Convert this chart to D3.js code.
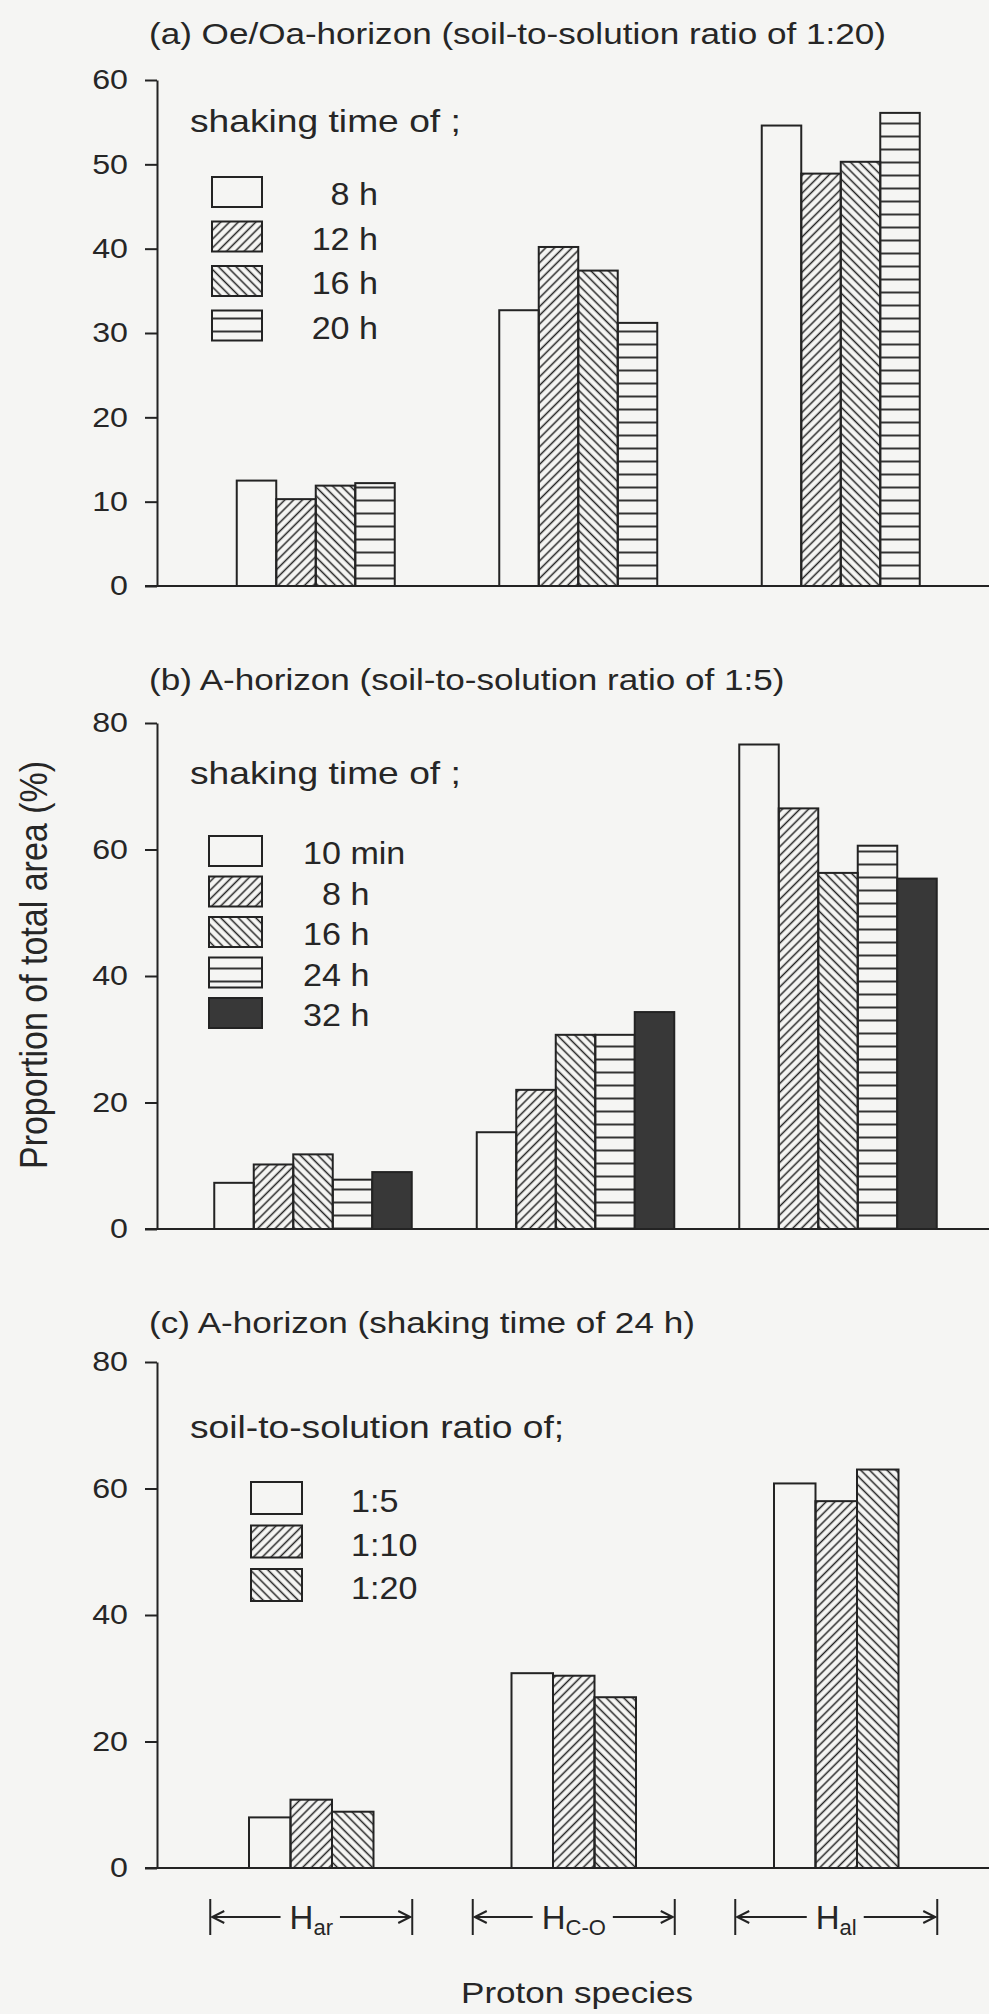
<!DOCTYPE html>
<html>
<head>
<meta charset="utf-8">
<script src="https://cdn.jsdelivr.net/npm/d3@7"></script>
<style>
  body { margin: 0; background: #f5f5f3; }
  text { font-family: "Liberation Sans", Arial, sans-serif; fill: #262626; }
</style>
</head>
<body>
<script>
// proton species (x categories)
var species = ['ar', 'C-O', 'al'];

// (a) Oe/Oa-horizon, shaking times
var timesA = ['8 h', '12 h', '16 h', '20 h'];
var valuesA = [
    [12.5, 10.3, 11.9, 12.2],
    [32.7, 40.2, 37.4, 31.2],
    [54.6, 48.9, 50.3, 56.1]
];
// (b) A-horizon, shaking times
var timesB = ['10 min', '\u20078 h', '16 h', '24 h', '32 h'];
var valuesB = [
    [7.3, 10.2, 11.8, 7.8, 9.0],
    [15.3, 22.0, 30.7, 30.7, 34.3],
    [76.6, 66.5, 56.3, 60.6, 55.4]
];
// (c) A-horizon, soil-to-solution ratios
var ratiosC = ['1:5', '1:10', '1:20'];
var valuesC = [
    [8.0, 10.8, 8.9],
    [30.8, 30.4, 27.0],
    [60.8, 58.0, 63.0]
];

var ticksA = [0, 10, 20, 30, 40, 50, 60];
var ticksBC = [0, 20, 40, 60, 80];

var W = 989, H = 2014;
var axisX = 157;
var ink = '#232323';

var svg = d3.select('body').append('svg')
    .attr('width', W)
    .attr('height', H);
svg.append('rect').attr('width', W).attr('height', H).attr('fill', '#f5f5f3');

// hatch patterns
var defs = svg.append('defs');
function hatch(id, angle) {
    var p = defs.append('pattern')
        .attr('id', id)
        .attr('patternUnits', 'userSpaceOnUse')
        .attr('width', 6.2)
        .attr('height', 10)
        .attr('patternTransform', 'rotate(' + angle + ')');
    p.append('line')
        .attr('x1', 3.1).attr('y1', 0).attr('x2', 3.1).attr('y2', 10)
        .attr('stroke', ink).attr('stroke-width', 1.5);
}
hatch('fwd', 45);
hatch('back', -45);
var hp = defs.append('pattern')
    .attr('id', 'horiz')
    .attr('patternUnits', 'userSpaceOnUse')
    .attr('width', 10)
    .attr('height', 13);
hp.append('line')
    .attr('x1', 0).attr('y1', 6.5).attr('x2', 10).attr('y2', 6.5)
    .attr('stroke', '#333').attr('stroke-width', 2);

var fillOf = {
    white: 'none',
    fwd: 'url(#fwd)',
    back: 'url(#back)',
    horiz: 'url(#horiz)',
    solid: '#383838'
};

function addText(g, x, y, str, size, sx, anchor) {
    return g.append('text')
        .attr('transform', 'translate(' + x + ',' + y + ') scale(' + sx + ',1)')
        .attr('font-size', size)
        .attr('text-anchor', anchor || 'start')
        .text(str);
}

var panels = [
    {
        title: '(a) Oe/Oa-horizon (soil-to-solution ratio of 1:20)', head: 'shaking time of ;',
        data: valuesA, series: timesA, yMax: 60, ticks: ticksA,
        fills: ['white', 'fwd', 'back', 'horiz'],
        titleY: 44, top: 80, base: 586, x0: 184.5, barW: 39.5, headY: 132,
        sw: { x: 212, y: 177, w: 50, h: 30, step: 44.5 }, lab: { x: 378, anchor: 'end' }
    },
    {
        title: '(b) A-horizon (soil-to-solution ratio of 1:5)', head: 'shaking time of ;',
        data: valuesB, series: timesB, yMax: 80, ticks: ticksBC,
        fills: ['white', 'fwd', 'back', 'horiz', 'solid'],
        titleY: 690, top: 723, base: 1229, x0: 181.75, barW: 39.5, headY: 784,
        sw: { x: 209, y: 836, w: 53, h: 30, step: 40.5 }, lab: { x: 303, anchor: 'start' }
    },
    {
        title: '(c) A-horizon (shaking time of 24 h)', head: 'soil-to-solution ratio of;',
        data: valuesC, series: ratiosC, yMax: 80, ticks: ticksBC,
        fills: ['white', 'fwd', 'back'],
        titleY: 1333, top: 1362, base: 1868, x0: 180, barW: 41.5, headY: 1438,
        sw: { x: 251, y: 1482, w: 51, h: 32, step: 43.5 }, lab: { x: 351, anchor: 'start' }
    }
];

var step = 262.5;

panels.forEach(function (p) {
    var g = svg.append('g');
    var x = d3.scaleBand().domain(species).range([p.x0, p.x0 + step * species.length]);
    var n = p.series.length;
    var xi = d3.scaleBand().domain(p.series).range([-n * p.barW / 2, n * p.barW / 2]);
    var y = d3.scaleLinear().domain([0, p.yMax]).range([p.base, p.top]);

    addText(g, 149, p.titleY, p.title, 30, 1.17);

    // bars
    species.forEach(function (s, si) {
        var cx = x(s) + x.bandwidth() / 2;
        g.selectAll(null)
            .data(p.data[si])
            .enter()
            .append('rect')
            .attr('x', function (d, i) { return cx + xi(p.series[i]); })
            .attr('y', function (d) { return y(d); })
            .attr('width', xi.bandwidth())
            .attr('height', function (d) { return y(0) - y(d); })
            .attr('fill', function (d, i) { return fillOf[p.fills[i]]; })
            .attr('stroke', ink)
            .attr('stroke-width', 2);
    });

    // y axis
    var ax = g.append('g')
        .attr('transform', 'translate(' + axisX + ',0)')
        .call(d3.axisLeft(y).tickValues(p.ticks).tickSize(12).tickSizeOuter(0).tickPadding(17));
    ax.selectAll('path, line').attr('stroke', ink).attr('stroke-width', 2);
    ax.selectAll('text')
        .attr('font-size', 28)
        .attr('font-family', '"Liberation Sans", Arial, sans-serif')
        .style('fill', '#262626')
        .each(function () {
            var t = d3.select(this);
            var tx = +t.attr('x');
            t.attr('x', 0).attr('transform', 'translate(' + tx + ',0) scale(1.15,1)');
        });

    // baseline
    g.append('line')
        .attr('x1', axisX - 12).attr('x2', W)
        .attr('y1', y(0)).attr('y2', y(0))
        .attr('stroke', ink).attr('stroke-width', 2);

    // legend
    addText(g, 190, p.headY, p.head, 31, 1.2);
    p.series.forEach(function (s, i) {
        var yy = p.sw.y + i * p.sw.step;
        g.append('rect')
            .attr('x', p.sw.x).attr('y', yy)
            .attr('width', p.sw.w).attr('height', p.sw.h)
            .attr('fill', fillOf[p.fills[i]])
            .attr('stroke', ink).attr('stroke-width', 2);
        addText(g, p.lab.x, yy + p.sw.h - 2, s, 31, 1.1, p.lab.anchor);
    });

    p.x = x;
});

// y axis title
svg.append('text')
    .attr('transform', 'translate(47,965) rotate(-90) scale(1,1.15)')
    .attr('font-size', 34)
    .attr('text-anchor', 'middle')
    .text('Proportion of total area (%)');

// proton species brackets under panel (c)
var xc = panels[2].x;
var by = 1917;
species.forEach(function (s) {
    var cx = xc(s) + xc.bandwidth() / 2;
    var l = cx - 101, r = cx + 101;
    var g = svg.append('g');
    var t = g.append('text')
        .attr('x', cx)
        .attr('y', by + 12)
        .attr('font-size', 33)
        .attr('text-anchor', 'middle');
    t.append('tspan').text('H');
    t.append('tspan').attr('font-size', 22).attr('dy', 6).text(s);
    var bb = t.node().getBBox();
    [l, r].forEach(function (xx) {
        g.append('line')
            .attr('x1', xx).attr('x2', xx)
            .attr('y1', by - 18).attr('y2', by + 18)
            .attr('stroke', ink).attr('stroke-width', 2);
    });
    g.append('line')
        .attr('x1', l + 2).attr('x2', bb.x - 9)
        .attr('y1', by).attr('y2', by)
        .attr('stroke', ink).attr('stroke-width', 2);
    g.append('line')
        .attr('x1', bb.x + bb.width + 7).attr('x2', r - 2)
        .attr('y1', by).attr('y2', by)
        .attr('stroke', ink).attr('stroke-width', 2);
    g.append('path')
        .attr('d', 'M' + (l + 14) + ',' + (by - 6) + 'L' + (l + 2) + ',' + by + 'L' + (l + 14) + ',' + (by + 6))
        .attr('fill', 'none').attr('stroke', ink).attr('stroke-width', 2);
    g.append('path')
        .attr('d', 'M' + (r - 14) + ',' + (by - 6) + 'L' + (r - 2) + ',' + by + 'L' + (r - 14) + ',' + (by + 6))
        .attr('fill', 'none').attr('stroke', ink).attr('stroke-width', 2);
});

addText(svg, 577, 2003, 'Proton species', 30, 1.17, 'middle');
</script>
</body>
</html>
